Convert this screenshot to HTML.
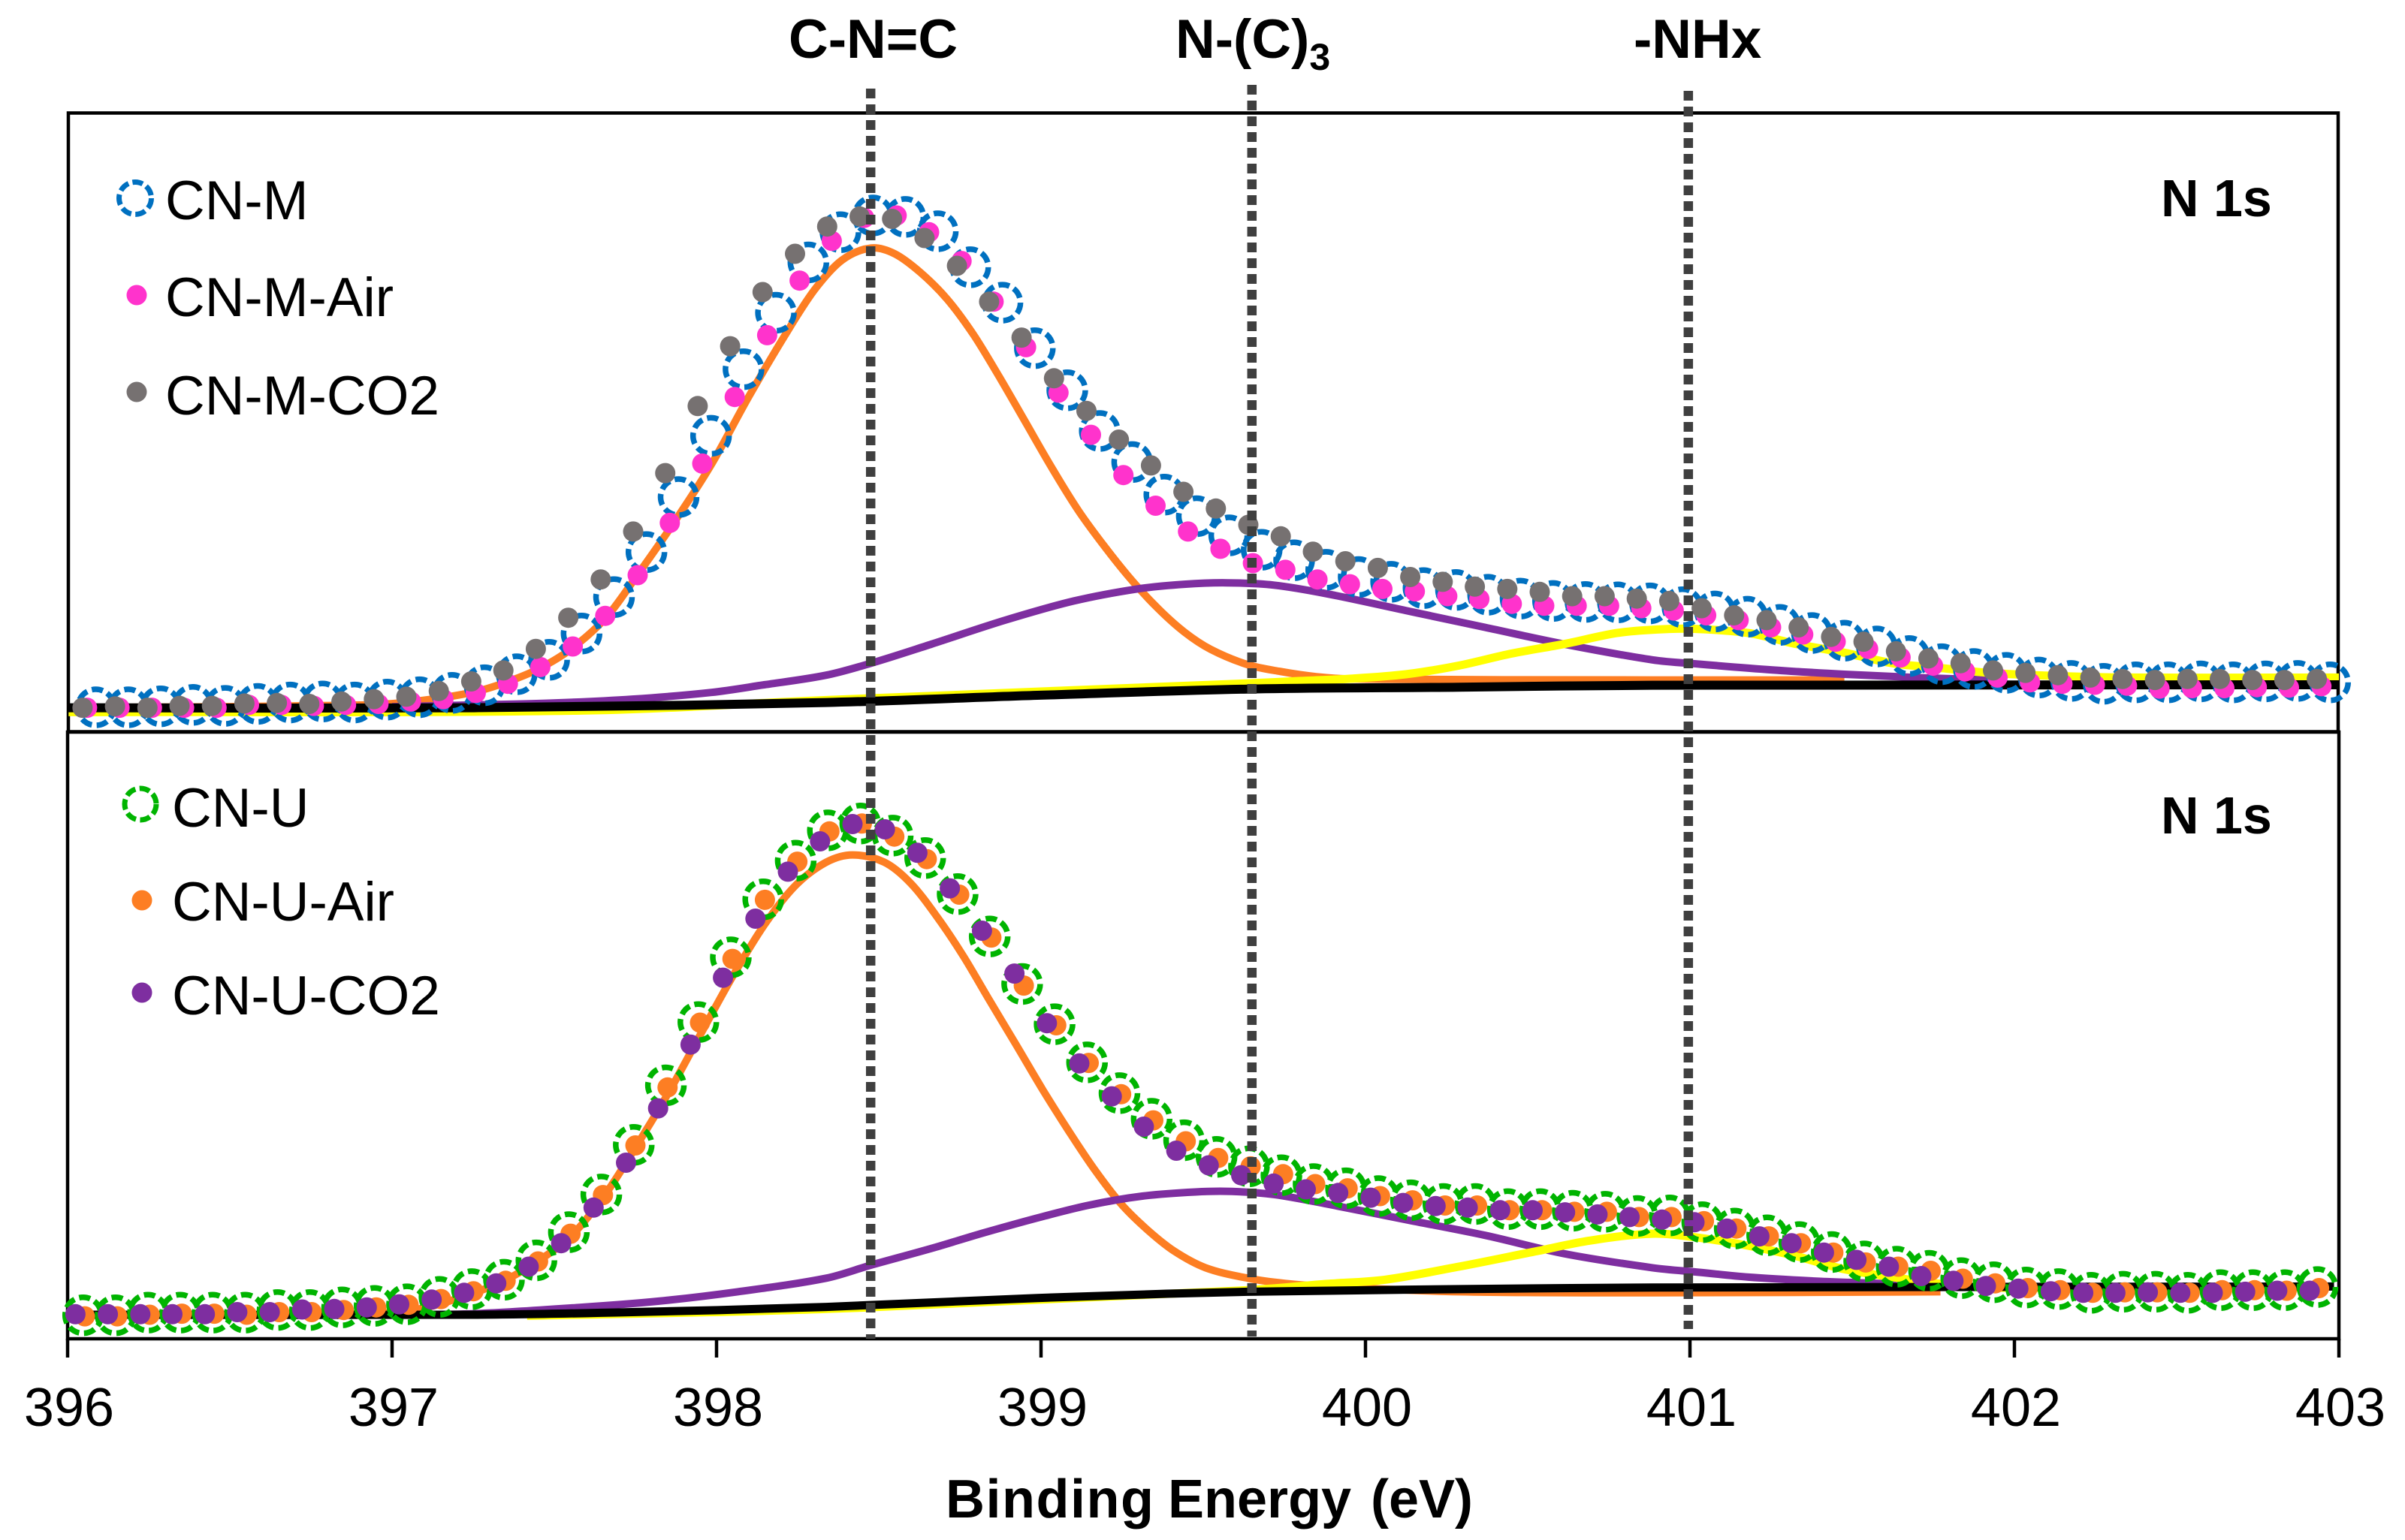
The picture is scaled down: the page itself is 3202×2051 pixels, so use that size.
<!DOCTYPE html>
<html lang="en">
<head>
<meta charset="utf-8">
<title>N 1s XPS spectra</title>
<style>
html,body{margin:0;padding:0;background:#fff}
svg{display:block}
text{font-family:"Liberation Sans",Arial,sans-serif;fill:#000}
.b{font-weight:bold;font-size:73px}
.r{font-size:73px}
</style>
</head>
<body>
<svg id="chart" xmlns="http://www.w3.org/2000/svg" width="3202" height="2051" viewBox="0 0 3202 2051">
<rect x="0" y="0" width="3202" height="2051" fill="#fff"/>
<rect x="91" y="150.5" width="3022" height="824" fill="none" stroke="#000" stroke-width="4.5"/>
<rect x="90" y="975" width="3024" height="808" fill="none" stroke="#000" stroke-width="4.5"/>
<g id="ticks"></g>
<g id="tickLabels"></g>
<g id="lines"></g>
<g id="points"></g>
<g id="refs"></g>

<text class="b" x="1050" y="77">C-N=C</text>
<text class="b" x="1565" y="77">N-(C)<tspan font-size="50" dy="16">3</tspan></text>
<text class="b" x="2175" y="77">-NHx</text>
<text class="b" x="2877" y="288" style="font-size:70px">N 1s</text>
<text class="b" x="2877" y="1110" style="font-size:70px">N 1s</text>

<circle cx="180" cy="264" r="21.5" fill="none" stroke="#0070c0" stroke-width="7" stroke-dasharray="14 5.5"/>
<text class="r" x="220" y="292">CN-M</text>
<circle cx="182" cy="393" r="13.5" fill="#ff33cc"/>
<text class="r" x="220" y="421">CN-M-Air</text>
<circle cx="182" cy="522" r="13.5" fill="#767171"/>
<text class="r" x="220" y="552">CN-M-CO2</text>

<circle cx="187" cy="1071" r="21" fill="none" stroke="#00b400" stroke-width="7" stroke-dasharray="14 5.5"/>
<text class="r" x="229" y="1101">CN-U</text>
<circle cx="189" cy="1199" r="13.5" fill="#fd7e23"/>
<text class="r" x="229" y="1226">CN-U-Air</text>
<circle cx="189" cy="1322" r="13.5" fill="#7e2ea0"/>
<text class="r" x="229" y="1351">CN-U-CO2</text>

<text class="b" y="2021" style="font-size:72px"><tspan x="1259" textLength="277">Binding</tspan><tspan x="1555">Energy</tspan><tspan x="1825">(eV)</tspan></text>
</svg>
<script>
// ---------- shared data ----------
const tickValues = [396,397,398,399,400,401,402,403];
const tickLabels = ["396","397","398","399","400","401","402","403"];
const refEnergies = [398.475,399.65,400.995];
const refTopPx = [118,113,121];
const refBottomPx = [1783,1780,1770];

// binding energy grid (eV) of the scans
const energies = [
396.000,396.100,396.200,396.299,396.399,396.499,396.599,396.699,396.798,396.898,
396.998,397.098,397.198,397.297,397.397,397.497,397.597,397.697,397.796,397.896,
397.996,398.096,398.196,398.295,398.395,398.495,398.595,398.695,398.794,398.894,
398.994,399.094,399.194,399.293,399.393,399.493,399.593,399.693,399.792,399.892,
399.992,400.092,400.192,400.291,400.391,400.491,400.591,400.691,400.790,400.890,
400.990,401.090,401.190,401.289,401.389,401.489,401.589,401.689,401.788,401.888,
401.988,402.088,402.188,402.287,402.387,402.487,402.587,402.687,402.786,402.886];

// ---------- top panel scan intensities (a.u.) ----------
const cnM = [51,51,53,56,54,58,61,63,61,67,72,81,97,120,150,205,281,375,490,618,757,875,980,
1043,1078,1075,1045,970,896,801,713,628,563,495,450,410,380,358,338,323,313,300,296,286,278,273,271,270,268,
260,251,240,223,206,190,178,158,141,131,123,113,106,100,103,103,105,103,105,106,103];
const cnMAir = [50,50,50,50,50,56,56,54,56,58,63,68,81,100,135,178,242,327,436,560,699,828,942,
1025,1073,1078,1043,983,898,803,708,620,536,472,418,382,352,338,318,308,298,293,283,277,267,263,263,263,258,
253,243,233,218,203,188,173,155,138,126,113,103,100,98,96,90,91,91,93,92,95];
const cnMCo2 = [50,53,50,54,54,59,60,58,63,68,73,85,105,128,173,238,318,418,540,680,805,918,998,1055,
1076,1071,1031,973,898,823,738,670,610,556,501,466,432,408,376,356,342,323,313,303,298,292,283,283,278,
273,258,243,233,218,198,188,168,153,143,128,123,118,113,110,108,110,110,108,108,110];

// ---------- top panel fit curves ----------
const topOrangeE = [396.000,396.928,397.091,397.253,397.351,397.448,397.546,397.659,397.757,397.870,397.984,398.098,398.211,398.301,398.387,398.476,398.549,398.630,398.711,398.793,398.874,398.955,399.036,399.117,399.199,399.280,399.361,399.442,399.523,399.637,399.735,399.848,399.962,400.884,401.476];
const topOrangeI = [50,56,65,83,103,130,170,238,328,438,558,698,828,922,985,1010,998,958,903,828,738,643,548,460,384,316,257,208,172,140,126,115,110,108,108];
const topPurpleE = [397.000,397.253,397.497,397.741,397.984,398.147,398.338,398.476,398.663,398.890,399.101,399.296,399.442,399.572,399.718,399.881,400.124,400.368,400.611,400.884,401.032,401.254,401.476,401.698,401.920];
const topPurpleI = [52,56,60,68,82,98,118,143,183,233,273,298,308,311,306,288,253,218,183,150,141,129,120,113,108];
const topYellowE = [396.003,397.578,398.338,399.637,399.800,399.962,400.124,400.287,400.449,400.611,400.774,400.884,401.002,401.180,401.328,401.476,401.624,401.772,401.920,402.142,402.364,403.000];
const topYellowI = [41,44,66,101,106,111,120,138,163,183,206,213,215,206,183,165,143,133,123,116,113,113];
const topBlackE = [396.000,397.253,398.338,398.988,399.637,400.287,400.884,403.000];
const topBlackI = [50,50,61,76,89,93,97,98];

// ---------- bottom panel scan intensities (a.u.) ----------
const cnU = [45,45,50,50,50,50,55,55,60,63,66,80,95,113,150,204,276,371,485,606,730,841,915,
973,986,963,920,851,770,679,602,529,470,421,380,348,330,313,296,288,273,265,258,258,248,248,245,243,235,
236,223,211,198,185,166,148,138,130,116,108,98,95,88,90,90,88,93,93,93,99];
const cnUAir = [43,43,46,48,48,46,51,51,55,60,65,76,91,111,148,201,275,370,481,605,727,840,913,
971,986,961,918,850,768,676,600,528,468,418,378,346,330,315,296,288,273,265,255,255,246,246,243,243,233,
233,225,211,196,183,165,146,138,130,115,106,97,93,88,89,89,88,93,93,92,97];
const cnUCo2 = [47,47,47,47,47,51,51,56,57,60,66,75,88,106,138,183,251,337,441,563,691,804,894,952,
985,975,930,862,781,699,604,527,464,406,360,332,313,297,286,279,270,260,254,251,246,246,242,238,233,
228,223,211,196,183,165,151,138,120,111,101,96,91,88,88,89,88,88,90,92,92];

// ---------- bottom panel fit curves ----------
const botOrangeE = [396.003,396.928,397.091,397.253,397.351,397.448,397.554,397.659,397.757,397.854,397.951,398.049,398.147,398.244,398.338,398.419,398.517,398.598,398.679,398.760,398.841,398.923,399.004,399.085,399.166,399.247,399.329,399.410,399.507,399.637,399.751,399.881,400.287,400.884,401.772];
const botOrangeI = [46,48,58,88,113,148,198,278,373,473,583,693,792,868,912,926,912,872,808,733,648,563,478,398,323,258,208,168,136,116,106,100,90,88,90];
const botPurpleE = [397.000,397.253,397.578,397.822,398.065,398.338,398.476,398.663,398.825,398.988,399.150,399.312,399.475,399.588,399.718,399.881,400.124,400.368,400.611,400.884,401.032,401.180,401.402,401.624,401.772];
const botPurpleI = [46,48,60,72,90,116,141,173,203,231,256,273,281,282,276,258,228,198,163,136,127,118,110,105,100];
const botYellowE = [397.416,398.338,399.637,399.881,400.059,400.287,400.530,400.693,400.884,401.032,401.180,401.328,401.476,401.624,401.772,401.920,402.940];
const botYellowI = [44,57,93,105,113,138,168,188,201,193,178,158,133,118,105,98,98];
const botBlackE = [396.000,397.253,397.741,398.338,398.988,399.637,400.287,400.884,402.985];
const botBlackI = [46,46,51,61,78,90,95,98,100];

// per-series energy shift (eV)
const shiftCnM = 0.087, shiftCnMAir = 0.060, shiftCnMCo2 = 0.046;
const shiftCnU = 0.048, shiftCnUAir = 0.053, shiftCnUCo2 = 0.024;

// ---------- axis functions ----------
function xScale(e){ return 90 + (e - 396) * 432; }
function yTop(v){ return 974.5 - v / 1.568; }
function yBot(v){ return 1783 - v / 1.437; }

const NS = "http://www.w3.org/2000/svg";
function make(tag, parentId){
  const el = document.createElementNS(NS, tag);
  document.getElementById(parentId).appendChild(el);
  return el;
}
function curvePath(xs, ys){
  const n = xs.length;
  const slope = i => {
    const a = Math.max(i - 1, 0), b = Math.min(i + 1, n - 1);
    return (ys[b] - ys[a]) / (xs[b] - xs[a]);
  };
  let d = "M" + xs[0].toFixed(1) + " " + ys[0].toFixed(1);
  for (let i = 0; i < n - 1; i++) {
    const h = (xs[i + 1] - xs[i]) / 3;
    d += "C" + (xs[i] + h).toFixed(1) + " " + (ys[i] + slope(i) * h).toFixed(1) + " " +
         (xs[i + 1] - h).toFixed(1) + " " + (ys[i + 1] - slope(i + 1) * h).toFixed(1) + " " +
         xs[i + 1].toFixed(1) + " " + ys[i + 1].toFixed(1);
  }
  return d;
}
function drawCurve(es, vals, yFn, color, width, name){
  const p = make("path", "lines");
  p.setAttribute("d", curvePath(es.map(xScale), vals.map(yFn)));
  p.setAttribute("fill", "none");
  p.setAttribute("stroke", color);
  p.setAttribute("stroke-width", width);
  
  
}
function drawRings(vals, shift, yFn, color, name){
  vals.forEach((v, i) => {
    const c = make("circle", "points");
    c.setAttribute("cx", xScale(energies[i] + shift).toFixed(1));
    c.setAttribute("cy", yFn(v).toFixed(1));
    c.setAttribute("r", 24);
    c.setAttribute("fill", "none");
    c.setAttribute("stroke", color);
    c.setAttribute("stroke-width", 7.5);
    c.setAttribute("stroke-dasharray", "15 6.5");
    
    
  });
}
function drawDots(vals, shift, yFn, color, name){
  vals.forEach((v, i) => {
    const c = make("circle", "points");
    c.setAttribute("cx", xScale(energies[i] + shift).toFixed(1));
    c.setAttribute("cy", yFn(v).toFixed(1));
    c.setAttribute("r", 13.5);
    c.setAttribute("fill", color);
    
    
  });
}

// ---------- ticks ----------
tickValues.forEach((t, i) => {
  const l = make("line", "ticks");
  l.setAttribute("x1", xScale(t));
  l.setAttribute("x2", xScale(t));
  l.setAttribute("y1", 1783);
  l.setAttribute("y2", 1808);
  l.setAttribute("stroke", "#000");
  l.setAttribute("stroke-width", 4.5);
  
  
  const s = make("text", "tickLabels");
  s.textContent = tickLabels[i];
  s.setAttribute("x", xScale(t) + 2);
  s.setAttribute("y", 1899);
  s.setAttribute("text-anchor", "middle");
  s.setAttribute("font-size", 72);
  
  
});

// ---------- curves ----------
drawCurve(topOrangeE, topOrangeI, yTop, "#fd7e23", 10, "top-fit-cn-c-peak");
drawCurve(topPurpleE, topPurpleI, yTop, "#7e2ea0", 10, "top-fit-n-c3-peak");
drawCurve(topYellowE, topYellowI, yTop, "#ffff00", 11, "top-fit-nhx-peak");
drawCurve(topBlackE, topBlackI, yTop, "#000000", 12, "top-baseline");
drawCurve(botOrangeE, botOrangeI, yBot, "#fd7e23", 10, "bottom-fit-cn-c-peak");
drawCurve(botPurpleE, botPurpleI, yBot, "#7e2ea0", 10, "bottom-fit-n-c3-peak");
drawCurve(botYellowE, botYellowI, yBot, "#ffff00", 11, "bottom-fit-nhx-peak");
drawCurve(botBlackE, botBlackI, yBot, "#000000", 11, "bottom-baseline");

// ---------- scan points ----------
drawRings(cnM, shiftCnM, yTop, "#0070c0", "point-cn-m");
drawDots(cnMAir, shiftCnMAir, yTop, "#ff33cc", "point-cn-m-air");
drawDots(cnMCo2, shiftCnMCo2, yTop, "#767171", "point-cn-m-co2");
drawRings(cnU, shiftCnU, yBot, "#00b400", "point-cn-u");
drawDots(cnUAir, shiftCnUAir, yBot, "#fd7e23", "point-cn-u-air");
drawDots(cnUCo2, shiftCnUCo2, yBot, "#7e2ea0", "point-cn-u-co2");

// ---------- dotted reference lines ----------
refEnergies.forEach((e, i) => {
  const l = make("line", "refs");
  l.setAttribute("x1", xScale(e));
  l.setAttribute("x2", xScale(e));
  l.setAttribute("y1", refTopPx[i]);
  l.setAttribute("y2", refBottomPx[i]);
  l.setAttribute("stroke", "#3f3f3f");
  l.setAttribute("stroke-width", 12.5);
  l.setAttribute("stroke-dasharray", "13 8");
  
  
});
</script>
</body>
</html>
